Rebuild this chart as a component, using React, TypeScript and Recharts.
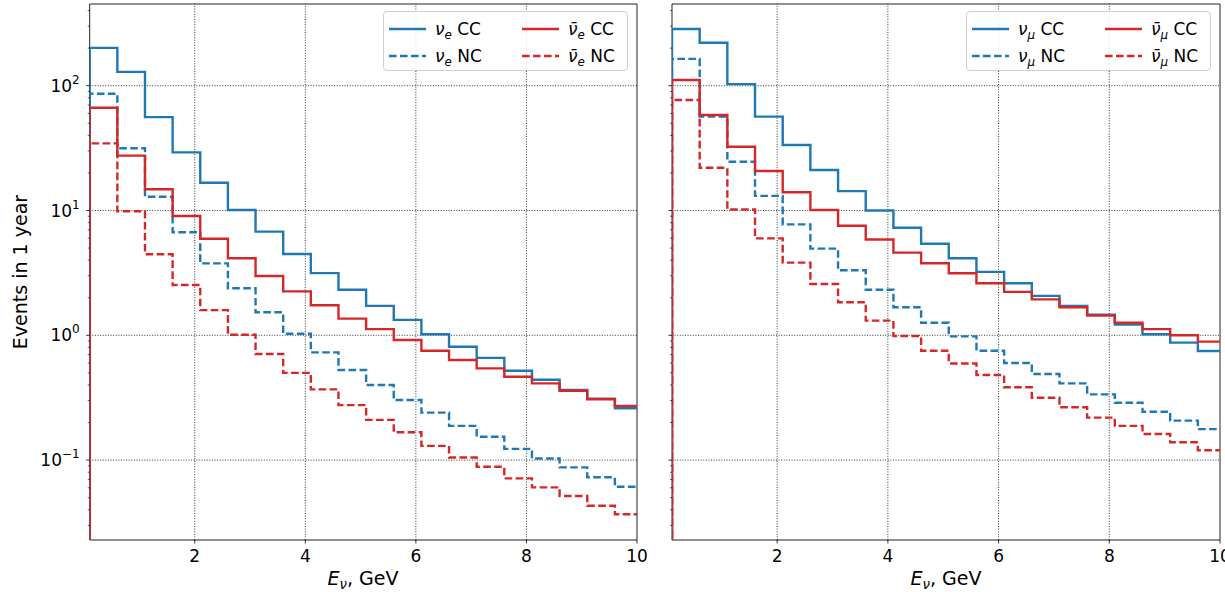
import React from 'react';
import { ComposedChart, Line, XAxis, YAxis, ReferenceLine, ReferenceArea } from 'recharts';

// Histogram bin edges (GeV)
const BIN_EDGES = [0.1, 0.6, 1.1, 1.6, 2.1, 2.6, 3.1, 3.6, 4.1, 4.6, 5.1, 5.6, 6.1, 6.6, 7.1, 7.6, 8.1, 8.6, 9.1, 9.6, 10.1];

// Left panel: electron flavour (events per bin)
const NUE_CC = [201, 129, 56, 29.2, 16.7, 10.1, 6.77, 4.48, 3.15, 2.32, 1.72, 1.33, 1.02, 0.81, 0.66, 0.52, 0.44, 0.365, 0.31, 0.26];
const NUE_NC = [86.3, 31.5, 12.9, 6.7, 3.77, 2.38, 1.53, 1.03, 0.73, 0.527, 0.4, 0.303, 0.24, 0.188, 0.154, 0.123, 0.103, 0.0875, 0.0728, 0.0612];
const NUEBAR_CC = [66.6, 27.5, 14.8, 9.04, 5.94, 4.14, 2.99, 2.25, 1.74, 1.36, 1.12, 0.917, 0.753, 0.634, 0.543, 0.466, 0.412, 0.36, 0.307, 0.271];
const NUEBAR_NC = [34.5, 9.85, 4.46, 2.53, 1.59, 1.01, 0.708, 0.5, 0.369, 0.276, 0.21, 0.167, 0.13, 0.105, 0.0885, 0.0714, 0.0605, 0.0516, 0.0431, 0.0368];

// Right panel: muon flavour
const NUMU_CC = [285, 221, 103, 56.5, 33.5, 21.1, 14.3, 10, 7.28, 5.42, 4.14, 3.22, 2.61, 2.07, 1.72, 1.46, 1.22, 1.02, 0.873, 0.748];
const NUMU_NC = [164, 56.5, 24.6, 13.1, 7.74, 4.95, 3.32, 2.32, 1.68, 1.26, 0.98, 0.753, 0.6, 0.49, 0.412, 0.336, 0.288, 0.244, 0.207, 0.177];
const NUMUBAR_CC = [111, 58.2, 32.4, 20.7, 14.0, 10.1, 7.55, 5.85, 4.6, 3.78, 3.14, 2.61, 2.23, 1.94, 1.68, 1.44, 1.26, 1.12, 1.0, 0.89];
const NUMUBAR_NC = [76.8, 22.0, 10.2, 5.98, 3.82, 2.58, 1.84, 1.31, 0.986, 0.753, 0.595, 0.481, 0.383, 0.316, 0.265, 0.219, 0.188, 0.162, 0.139, 0.12];

const X_TICKS = [2, 4, 6, 8, 10];
const X_GRID = [2, 4, 6, 8];
const Y_MAJOR = [0.1, 1, 10, 100];
const Y_TICKS = [
  0.03, 0.04, 0.05, 0.06, 0.07, 0.08, 0.09,
  0.1, 0.2, 0.3, 0.4, 0.5, 0.6, 0.7, 0.8, 0.9,
  1, 2, 3, 4, 5, 6, 7, 8, 9,
  10, 20, 30, 40, 50, 60, 70, 80, 90,
  100, 200, 300, 400,
];
const X_DOMAIN: [number, number] = [0.1, 10];
const Y_DOMAIN: [number, number] = [0.0229, 451.5];
const HIST_FLOOR = 1e-4; // histogram baseline (zero events) below visible range

const BLUE = '#1f77b4';
const RED = '#d62728';
const FONT = '"DejaVu Sans", sans-serif';

type Series = { key: string; values: number[]; color: string; dashed: boolean; flavour: string; anti: boolean; kind: string };

const LEFT_SERIES: Series[] = [
  { key: 'nueCC', values: NUE_CC, color: BLUE, dashed: false, flavour: 'e', anti: false, kind: 'CC' },
  { key: 'nueNC', values: NUE_NC, color: BLUE, dashed: true, flavour: 'e', anti: false, kind: 'NC' },
  { key: 'nuebarCC', values: NUEBAR_CC, color: RED, dashed: false, flavour: 'e', anti: true, kind: 'CC' },
  { key: 'nuebarNC', values: NUEBAR_NC, color: RED, dashed: true, flavour: 'e', anti: true, kind: 'NC' },
];
const RIGHT_SERIES: Series[] = [
  { key: 'numuCC', values: NUMU_CC, color: BLUE, dashed: false, flavour: 'μ', anti: false, kind: 'CC' },
  { key: 'numuNC', values: NUMU_NC, color: BLUE, dashed: true, flavour: 'μ', anti: false, kind: 'NC' },
  { key: 'numubarCC', values: NUMUBAR_CC, color: RED, dashed: false, flavour: 'μ', anti: true, kind: 'CC' },
  { key: 'numubarNC', values: NUMUBAR_NC, color: RED, dashed: true, flavour: 'μ', anti: true, kind: 'NC' },
];

const DASH = '7.6 3.4';
const LW = 2.4;

function buildRows(series: Series[]) {
  const rows: any[] = [];
  const first: any = { x: BIN_EDGES[0] };
  series.forEach((s) => (first[s.key] = HIST_FLOOR));
  rows.push(first);
  BIN_EDGES.forEach((e, i) => {
    const r: any = { x: e };
    series.forEach((s) => (r[s.key] = s.values[Math.min(i, s.values.length - 1)]));
    rows.push(r);
  });
  return rows;
}

const XTick = (p: any) => (
  <g>
    <line x1={p.x} x2={p.x} y1={p.y} y2={p.y + 3.5} stroke="#000" strokeWidth={0.8} />
    <text x={p.x} y={p.y + 22} textAnchor="middle" fontSize={17} fontFamily={FONT} fill="#000">
      {p.payload.value}
    </text>
  </g>
);

const YTick = (p: any) => {
  const v = p.payload.value;
  const lg = Math.log10(v);
  const exp = Math.round(lg);
  const major = Math.abs(lg - exp) < 1e-6;
  const len = major ? 3.5 : 2;
  return (
    <g>
      <line x1={p.x - len} x2={p.x} y1={p.y} y2={p.y} stroke="#000" strokeWidth={major ? 0.8 : 0.6} />
      {major && p.showLabel && (
        <text x={p.x - 10} y={p.y + 6} textAnchor="end" fontSize={17} fontFamily={FONT} fill="#000">
          10
          <tspan dy={-8} fontSize={12}>
            {exp < 0 ? '\u2212' + Math.abs(exp) : String(exp)}
          </tspan>
        </text>
      )}
    </g>
  );
};

function Panel({ width, yAxisWidth, marginRight, series, showYLabels }: { width: number; yAxisWidth: number; marginRight: number; series: Series[]; showYLabels: boolean }) {
  const data = buildRows(series);
  return (
    <ComposedChart width={width} height={592} data={data} margin={{ top: 4, right: marginRight, bottom: 22, left: 0 }}>
      <XAxis
        dataKey="x"
        type="number"
        domain={X_DOMAIN}
        allowDataOverflow
        ticks={X_TICKS}
        interval={0}
        tickLine={false}
        axisLine={false}
        tickSize={0}
        tickMargin={0}
        height={30}
        tick={<XTick />}
      />
      <YAxis
        type="number"
        scale="log"
        domain={Y_DOMAIN}
        allowDataOverflow
        ticks={Y_TICKS}
        interval={0}
        width={yAxisWidth}
        tickLine={false}
        axisLine={false}
        tickSize={0}
        tickMargin={0}
        tick={<YTick showLabel={showYLabels} />}
      />
      {Y_MAJOR.map((v) => (
        <ReferenceLine key={'gy' + v} y={v} stroke="#000" strokeWidth={0.8} strokeDasharray="1 1.6" />
      ))}
      {X_GRID.map((v) => (
        <ReferenceLine key={'gx' + v} x={v} stroke="#000" strokeWidth={0.8} strokeDasharray="1 1.6" />
      ))}
      <ReferenceArea x1={X_DOMAIN[0]} x2={X_DOMAIN[1]} y1={Y_DOMAIN[0]} y2={Y_DOMAIN[1]} fill="none" fillOpacity={0} stroke="#222" strokeWidth={1} ifOverflow="visible" />
      {series.map((s) => (
        <Line
          key={s.key}
          dataKey={s.key}
          type="stepAfter"
          stroke={s.color}
          strokeWidth={LW}
          strokeDasharray={s.dashed ? DASH : undefined}
          dot={false}
          activeDot={false}
          isAnimationActive={false}
        />
      ))}
    </ComposedChart>
  );
}

function SeriesLabel({ s }: { s: Series }) {
  return (
    <span>
      <span style={{ fontStyle: 'italic' }}>{s.anti ? 'ν\u0304' : 'ν'}</span>
      <span style={{ fontStyle: 'italic', fontSize: '0.7em', position: 'relative', top: '0.3em' }}>{s.flavour}</span>
      <span> {s.kind}</span>
    </span>
  );
}

function LegendBox({ left, top, series }: { left: number; top: number; series: Series[] }) {
  // matplotlib ncol=2 fills column-first
  const cols = [series.slice(0, 2), series.slice(2, 4)];
  const colX = [5, 138];
  return (
    <div
      style={{
        position: 'absolute',
        left,
        top,
        width: 245,
        height: 60,
        border: '1px solid #d0d0d0',
        borderRadius: 4,
        background: 'rgba(255,255,255,0.85)',
        boxSizing: 'border-box',
        fontFamily: FONT,
        fontSize: 17,
        color: '#000',
      }}
    >
      {cols.map((col, ci) =>
        col.map((s, ri) => (
          <div key={s.key} style={{ position: 'absolute', left: colX[ci], top: 5 + ri * 27, height: 24, display: 'flex', alignItems: 'center', whiteSpace: 'nowrap' }}>
            <svg width={38} height={10} style={{ marginRight: 8 }}>
              <line x1={0} x2={37} y1={5} y2={5} stroke={s.color} strokeWidth={LW} strokeDasharray={s.dashed ? DASH : undefined} />
            </svg>
            <SeriesLabel s={s} />
          </div>
        ))
      )}
    </div>
  );
}

function XLabel({ cx }: { cx: number }) {
  return (
    <div style={{ position: 'absolute', left: cx - 100, width: 200, top: 567, textAlign: 'center', fontFamily: FONT, fontSize: 19, color: '#000', whiteSpace: 'nowrap' }}>
      <span style={{ fontStyle: 'italic' }}>E</span>
      <span style={{ fontStyle: 'italic', fontSize: '0.7em', position: 'relative', top: '0.3em' }}>ν</span>
      <span>, GeV</span>
    </div>
  );
}

export default function App() {
  return (
    <div style={{ position: 'absolute', left: 0, top: 0, width: 1225, height: 592, background: '#fff', overflow: 'hidden' }}>
      <div style={{ position: 'absolute', left: 0, top: 0 }}>
        <Panel width={660} yAxisWidth={89.7} marginRight={23} series={LEFT_SERIES} showYLabels={true} />
      </div>
      <div style={{ position: 'absolute', left: 630, top: 0 }}>
        <Panel width={595} yAxisWidth={42} marginRight={5} series={RIGHT_SERIES} showYLabels={false} />
      </div>
      <LegendBox left={383} top={11} series={LEFT_SERIES} />
      <LegendBox left={966} top={11} series={RIGHT_SERIES} />
      <XLabel cx={363} />
      <XLabel cx={946} />
      <div
        style={{
          position: 'absolute',
          left: 20,
          top: 272,
          transform: 'translate(-50%, -50%) rotate(-90deg)',
          fontFamily: FONT,
          fontSize: 19,
          color: '#000',
          whiteSpace: 'nowrap',
        }}
      >
        Events in 1 year
      </div>
    </div>
  );
}
